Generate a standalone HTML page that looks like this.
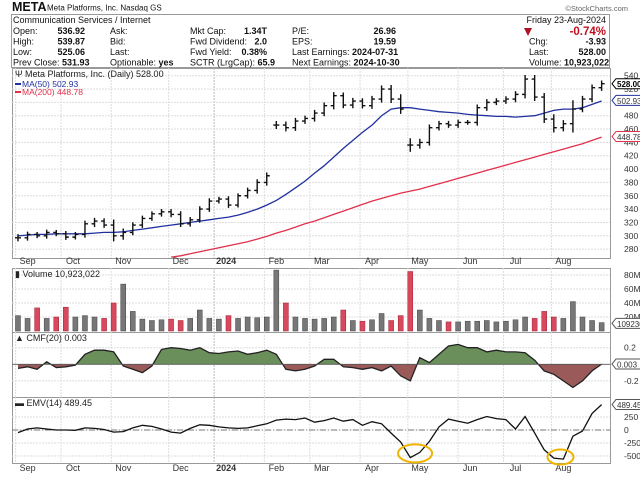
<!DOCTYPE html>
<html><head><meta charset="utf-8">
<style>
body{margin:0;background:#fff;width:640px;height:477px;overflow:hidden;font-family:"Liberation Sans",sans-serif;}
svg{display:block}
text{font-family:"Liberation Sans",sans-serif;}
</style></head>
<body>
<svg id="c" width="640" height="477" viewBox="0 0 640 477">
 <g font-size="9" fill="#111">
  <text x="12" y="11" font-size="12.5" font-weight="bold">META</text>
  <text x="47" y="10.5" font-size="8">Meta Platforms, Inc. Nasdaq GS</text>
  <text x="628" y="11" font-size="7.5" fill="#666" text-anchor="end">©StockCharts.com</text>
  <rect x="11.5" y="14.5" width="598" height="53" fill="none" stroke="#999"/>
  <text x="13" y="23">Communication Services / Internet</text>
  <text x="606" y="23" text-anchor="end">Friday  23-Aug-2024</text>
  <g>
   <text x="13" y="34">Open:</text><text x="85" y="34" text-anchor="end" font-weight="bold">536.92</text>
   <text x="13" y="44.5">High:</text><text x="85" y="44.5" text-anchor="end" font-weight="bold">539.87</text>
   <text x="13" y="55">Low:</text><text x="85" y="55" text-anchor="end" font-weight="bold">525.06</text>
   <text x="13" y="65.5">Prev Close: <tspan font-weight="bold">531.93</tspan></text>
  </g>
  <g>
   <text x="110" y="34">Ask:</text><text x="110" y="44.5">Bid:</text><text x="110" y="55">Last:</text>
   <text x="110" y="65.5">Optionable: <tspan font-weight="bold">yes</tspan></text>
  </g>
  <g>
   <text x="190" y="34">Mkt Cap:</text><text x="267" y="34" text-anchor="end" font-weight="bold">1.34T</text>
   <text x="190" y="44.5">Fwd Dividend:</text><text x="267" y="44.5" text-anchor="end" font-weight="bold">2.0</text>
   <text x="190" y="55">Fwd Yield:</text><text x="267" y="55" text-anchor="end" font-weight="bold">0.38%</text>
   <text x="190" y="65.5">SCTR (LrgCap): <tspan font-weight="bold">65.9</tspan></text>
  </g>
  <g>
   <text x="292" y="34">P/E:</text><text x="396" y="34" text-anchor="end" font-weight="bold">26.96</text>
   <text x="292" y="44.5">EPS:</text><text x="396" y="44.5" text-anchor="end" font-weight="bold">19.59</text>
   <text x="292" y="55">Last Earnings: <tspan font-weight="bold">2024-07-31</tspan></text>
   <text x="292" y="65.5">Next Earnings: <tspan font-weight="bold">2024-10-30</tspan></text>
  </g>
  <g>
   <polygon points="524,28 532,28 528,36" fill="#b01020"/>
   <text x="606" y="35" text-anchor="end" font-size="11.5" font-weight="bold" fill="#c01020">-0.74%</text>
   <text x="529" y="44.5">Chg:</text><text x="606" y="44.5" text-anchor="end" font-weight="bold">-3.93</text>
   <text x="529" y="55">Last:</text><text x="606" y="55" text-anchor="end" font-weight="bold">528.00</text>
   <text x="529" y="65.5">Volume: <tspan font-weight="bold">10,923,022</tspan></text>
  </g>
 </g>
 <g id="panels"></g>
</svg>
<script>
const closes=[297,302,300,305,303,298,302,318,322,316,300,305,316,326,333,336,332,318,324,340,352,355,346,360,368,380,390,466,462,472,476,484,495,510,496,502,495,505,520,505,490,436,440,462,468,466,470,470,492,500,502,505,512,535,508,475,462,468,490,505,522,528];
const ranges=[9,7,6,7,6,7,6,8,8,7,14,10,7,7,6,7,7,8,7,7,7,6,7,6,7,8,8,10,9,8,7,8,8,9,8,8,7,8,9,10,12,17,9,8,7,7,7,6,8,8,7,7,8,10,10,10,12,9,22,8,8,8];
const ma50=[300,301,302,302,303,303,303,303,304,305,305,306,308,310,312,314,316,318,320,322,324,326,328,331,335,340,346,353,362,372,382,394,405,418,431,443,455,466,480,490,492,492,490,488,486,485,484,482,481,480,479,479,478,479,480,484,488,490,490,492,497,502];
const ma200=[null,null,null,null,null,null,null,null,null,null,null,null,null,null,null,null,268,270,273,276,279,282,285,288,291,295,299,304,308,313,318,322,327,332,337,342,347,352,356,360,364,367,370,374,378,382,386,390,394,398,402,406,410,414,418,422,426,430,434,438,443,448];
const volumes=[22,18,33,18,20,34,20,22,20,18,40,67,28,17,15,16,17,15,18,30,18,17,22,18,20,19,20,87,40,20,18,17,18,20,30,15,14,16,25,15,22,85,30,18,15,13,13,14,14,15,13,14,16,20,18,28,20,18,42,20,15,12];
const cmf=[-0.05,-0.03,-0.06,0.03,-0.04,-0.03,-0.01,0.12,0.17,0.17,0.15,-0.02,-0.06,-0.1,-0.02,0.18,0.2,0.19,0.17,0.2,0.14,0.13,0.15,0.16,0.12,0.14,0.17,0.12,-0.06,-0.08,-0.06,-0.02,0.06,0.06,-0.03,-0.04,-0.06,-0.04,-0.08,-0.02,-0.14,-0.2,0.08,0.02,0.12,0.22,0.24,0.2,0.2,0.15,0.17,0.15,0.15,0.14,0.05,-0.08,-0.12,-0.2,-0.28,-0.2,-0.08,0.003];
const emv=[-50,20,40,20,0,0,-5,40,30,10,-40,-30,40,90,70,20,-40,-60,30,100,90,60,40,30,40,80,120,190,210,200,230,150,180,230,170,200,90,160,120,-60,-230,-530,-430,-220,60,210,170,130,200,260,220,200,20,260,-60,-380,-540,-560,-120,-20,320,489];
const monthLabels=["Sep","Oct","Nov","Dec","2024","Feb","Mar","Apr","May","Jun","Jul","Aug"];
const monthDay=[1,20,41,65,84,105,124,145,165,186,205,225];
const priceTicks=[280,300,320,340,360,380,400,420,440,460,480,500,520,540];
const volTicks=[20,40,60,80];
const cmfTicks=[-0.2,0.2];
const emvTicks=[-500,-250,0,250];

const NS="http://www.w3.org/2000/svg";
const root=document.getElementById('panels');
function el(tag,attrs,parent){const e=document.createElementNS(NS,tag);for(const k in attrs)e.setAttribute(k,attrs[k]);(parent||root).appendChild(e);return e;}
const L=12,R=610,NDAYS=250;
const xDay=d=>L+(d+0.5)*(R-L)/NDAYS;
const xK=k=>xDay(4*k+2);
const yP=p=>75.7+(540-p)*0.667;
const yV=v=>331-v*0.7;
const yC=c=>364.3-c*83;
const yE=e=>430-e*0.052;
const P={price:[68,258],vol:[268,332],cmf:[332,397],emv:[397,463]};

for(const name in P){
  const [t,b]=P[name];
  const g=el('g',{});
  
  
  el('rect',{x:L+.5,y:t+.5,width:R-L,height:b-t,fill:'#fff',stroke:'#999'},g);
  monthDay.forEach((d,i)=>{
    const gl=el('line',{x1:xDay(d),x2:xDay(d),y1:t,y2:b,stroke:i==4?'#bbb':'#ddd','stroke-dasharray':'2,1'},g);
    
    
  });
}
function hgrid(ticks,fy,panel,fmt){
  ticks.forEach(v=>{
    const y=fy(v);
    el('line',{x1:L,x2:R,y1:y,y2:y,stroke:'#ddd','stroke-dasharray':'2,1'});
    const tx=el('text',{x:R+14,y:y+3,'font-size':8.5,fill:'#333'});
    tx.textContent=fmt(v);
    
    
  });
}
hgrid(priceTicks,yP,'price',v=>v);
hgrid(volTicks,yV,'vol',v=>v+'M');
hgrid(cmfTicks,yC,'cmf',v=>v);
hgrid(emvTicks,yE,'emv',v=>v);

[[264,'top'],[471,'bottom']].forEach(([y,pos])=>{
  monthDay.forEach((d,i)=>{
    const t=el('text',{x:xDay(d)+12,y:y,'font-size':9,'text-anchor':'middle',fill:'#333','font-weight':i==4?'bold':'normal'});
    t.textContent=monthLabels[i];
    
    
  });
});

el('clipPath',{id:'pc'}).appendChild(el('rect',{x:L,y:68,width:R-L,height:190}));
const pg=el('g',{'clip-path':'url(#pc)'});
function line(arr,fx,fy,color,name,g){
  let d='';arr.forEach((v,i)=>{if(v==null)return;d+=(d?'L':'M')+fx(i).toFixed(1)+','+fy(v).toFixed(1);});
  const p=el('path',{d:d,fill:'none',stroke:color,'stroke-width':1.3},g);
  
  
  return p;
}
line(ma200,xK,yP,'#e0304a','ma200-line',pg);
line(ma50,xK,yP,'#2030a0','ma50-line',pg);
closes.forEach((c,k)=>{
  const x=xK(k),o=k?closes[k-1]:c;
  const gap=Math.abs(c-o)>40;
  const oo=gap?c:o;
  const hi=Math.max(c,oo)+ranges[k]*0.6,lo=Math.min(c,oo)-ranges[k]*0.6;
  const b=el('path',{d:`M${x},${yP(hi)}V${yP(lo)}M${x-3},${yP(oo)}H${x}M${x},${yP(c)}H${x+3}`,stroke:'#111','stroke-width':1.4,fill:'none'},pg);
  
  
});

volumes.forEach((v,k)=>{
  const down=k>0&&closes[k]<closes[k-1];
  const r=el('rect',{x:xK(k)-2.5,y:yV(v),width:5,height:331-yV(v),fill:down?'#d8485e':'#777',stroke:down?'#a02030':'#444','stroke-width':.5});
  
  
});

el('clipPath',{id:'cpos'}).appendChild(el('rect',{x:L,y:332,width:R-L,height:yC(0)-332}));
el('clipPath',{id:'cneg'}).appendChild(el('rect',{x:L,y:yC(0),width:R-L,height:397-yC(0)}));
let cd='M'+xK(0)+','+yC(0);cmf.forEach((v,i)=>cd+='L'+xK(i).toFixed(1)+','+yC(v).toFixed(1));cd+='L'+xK(cmf.length-1)+','+yC(0)+'Z';
const ap=el('path',{d:cd,fill:'#6a8f5a','clip-path':'url(#cpos)'});


const an=el('path',{d:cd,fill:'#9a5a5a','clip-path':'url(#cneg)'});


line(cmf,xK,yC,'#222','cmf-line');
el('line',{x1:L,x2:R,y1:yC(0),y2:yC(0),stroke:'#555','stroke-width':.8});

el('line',{x1:L,x2:R,y1:yE(0),y2:yE(0),stroke:'#777','stroke-dasharray':'6,2,1,2'});
line(emv,xK,yE,'#111','emv-line');
const e1=el('ellipse',{cx:xK(41.5),cy:yE(-450),rx:17,ry:9,fill:'none',stroke:'#f0b400','stroke-width':2});


const e2=el('ellipse',{cx:xK(56.7),cy:yE(-520),rx:13,ry:7.5,fill:'none',stroke:'#f0b400','stroke-width':2});



function txt(x,y,s,fill,name,size){const t=el('text',{x:x,y:y,'font-size':size||9,fill:fill||'#222'});t.textContent=s;return t;}
txt(15,77,'Ψ Meta Platforms, Inc. (Daily) 528.00','#222','price-legend-title');
el('line',{x1:15,x2:21,y1:84,y2:84,stroke:'#2030a0','stroke-width':2});
txt(22,87,'MA(50) 502.93','#2030a0','ma50-legend',8.5);
el('line',{x1:15,x2:21,y1:92,y2:92,stroke:'#e0304a','stroke-width':2});
txt(22,95,'MA(200) 448.78','#e0304a','ma200-legend',8.5);
txt(15,277,'▮ Volume 10,923,022','#222','volume-legend');
txt(15,341,'▲ CMF(20) 0.003','#222','cmf-legend');
txt(15,406,'▬ EMV(14) 489.45','#222','emv-legend');

function tag(y,s,color,name,bold){
  const g=el('g',{});
  
  
  el('path',{d:`M${R+2},${y} l4,-5 h${bold?28:25} v10 h-${bold?28:25}z`,fill:'#fff',stroke:color},g);
  const t=el('text',{x:R+7,y:y+3.5,'font-size':8,fill:color==='#000'?'#000':'#333','font-weight':bold?'bold':'normal'},g);
  t.textContent=s;
}
tag(yP(528),'528.00','#000','last-price-tag',true);
tag(yP(502.93),'502.93','#2030a0','ma50-tag');
tag(yP(448.78),'448.78','#e0304a','ma200-tag');
tag(yV(10.9),'10923022','#555','volume-tag');
tag(yC(0.003),'0.003','#555','cmf-tag');
tag(yE(489.45),'489.45','#555','emv-tag');
</script>
</body></html>
